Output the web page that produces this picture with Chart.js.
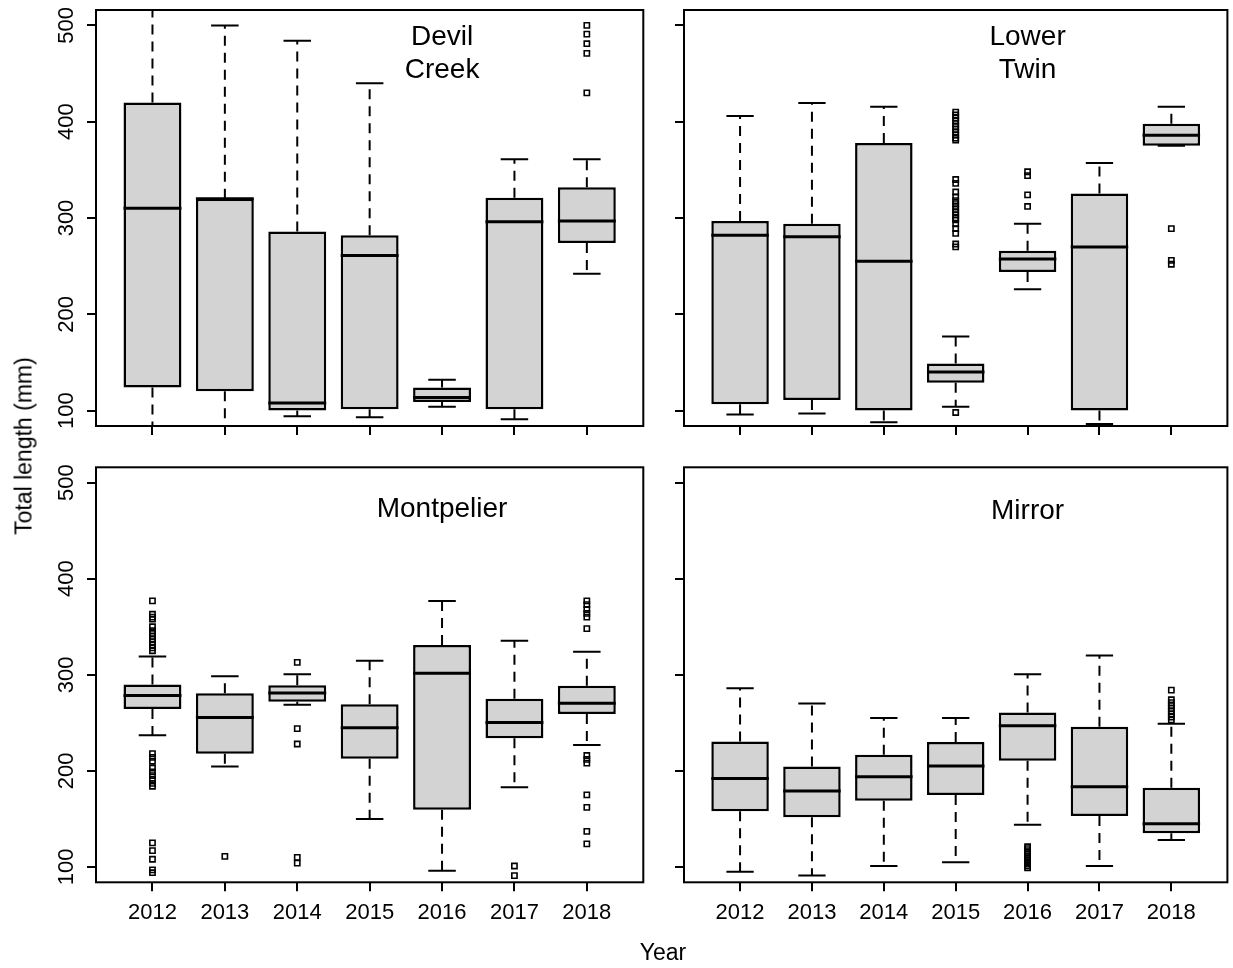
<!DOCTYPE html>
<html>
<head>
<meta charset="utf-8">
<script src="https://cdn.jsdelivr.net/npm/chart.js@4.4.0/dist/chart.umd.min.js"></script>
<style>
  html, body { margin: 0; padding: 0; background: #fff; }
  #wrap { position: relative; width: 1233px; height: 968px; overflow: hidden; }
  #wrap canvas { position: absolute; left: 0; top: 0; }
  .lab { position: absolute; font-family: 'Liberation Sans', Arial, sans-serif; font-size: 23px; line-height: 1; color: #000; white-space: nowrap; }
  #ylab { left: 23.7px; top: 446px; transform: translate(-50%, -50%) rotate(-90deg); }
  #xlab { left: 663px; top: 941px; transform: translateX(-50%); }
</style>
</head>
<body>
<div id="wrap">
  <canvas id="devil" width="1233" height="968"></canvas>
  <canvas id="twin" width="1233" height="968"></canvas>
  <canvas id="mont" width="1233" height="968"></canvas>
  <canvas id="mirror" width="1233" height="968"></canvas>
  <div class="lab" id="ylab">Total length (mm)</div>
  <div class="lab" id="xlab">Year</div>
</div>
<script>
var years = ["2012", "2013", "2014", "2015", "2016", "2017", "2018"];
var yTicks = [100, 200, 300, 400, 500];

// Devil Creek
var devilLow  = [70, 70, 94, 93, 104, 91, 242];
var devilQ1   = [124, 120, 100, 101.5, 109, 101.5, 274];
var devilMed  = [310, 320, 108, 261, 113.5, 296, 297];
var devilQ3   = [420, 320, 286, 282, 124, 321, 332];
var devilHigh = [540, 500, 484, 440, 132, 361, 361];
var devilOut  = [[], [], [], [], [], [], [500, 491, 481, 471, 430]];

// Lower Twin
var twinLow  = [96, 97, 88, 104, 226, 86, 375];
var twinQ1   = [106.5, 111, 100, 129, 244, 100, 375];
var twinMed  = [282, 280.5, 255, 140, 257.5, 270, 386];
var twinQ3   = [297, 294, 378, 149, 266, 325.5, 398];
var twinHigh = [406, 419.5, 415.5, 177, 294, 357, 415.5];
var twinOut  = [[], [], [],
  [410, 407, 404, 401, 398, 395, 392, 389, 386, 383, 381, 340, 336, 327, 322, 318, 315, 312, 309, 306, 303, 300, 298, 294, 289, 284, 273, 270, 98],
  [348, 344, 324, 312], [], [289, 256, 252]];

// Montpelier
var montLow  = [237, 204.6, 268.7, 150, 96, 183, 227];
var montQ1   = [264.5, 217.7, 272, 212.6, 159.6, 234, 259.3];
var montMed  = [278.4, 255.5, 281, 245, 301.6, 250.3, 270.4];
var montQ3   = [289.8, 280.8, 289, 269.3, 331, 275, 288.7];
var montHigh = [319, 298.4, 300.5, 314.7, 376.7, 335.5, 324];
var montOut  = [
  [377, 363, 360, 358, 350, 346, 343, 340, 337, 334, 331, 328, 325, 218, 214, 210, 203, 199, 195, 191, 187, 184, 125, 117, 108, 97, 94],
  [111], [313, 244, 228, 110, 104], [], [], [101, 91],
  [377, 373, 368, 364, 360, 348, 216, 212, 208, 175, 162, 137, 124]];

// Mirror
var mirrorLow  = [95, 91, 101, 105, 144, 101, 128];
var mirrorQ1   = [158, 151.6, 169, 175, 210.5, 153, 135];
var mirrorMed  = [192, 179, 194, 205, 247, 183.5, 145];
var mirrorQ3   = [230.6, 204.6, 216.7, 230, 260.7, 246, 182.4];
var mirrorHigh = [286, 270, 255, 255, 300.5, 320, 249];
var mirrorOut  = [[], [], [], [],
  [121, 119, 117, 115, 113, 111, 109, 107, 105, 103, 101, 99], [],
  [284, 274, 271, 268, 265, 262, 259, 256, 253]];

var FONT = "'Liberation Sans', Arial, sans-serif";
var Y_AXIS_W = 60, X_AXIS_H = 50;

function fixSize(s) {
  if (s.isHorizontal()) s.height = X_AXIS_H; else s.width = Y_AXIS_W;
  s.paddingTop = 0; s.paddingBottom = 0; s.paddingLeft = 0; s.paddingRight = 0;
}

// whiskers, medians, frame and the lake name
function boxPlugin(low, med, high, title, titleY) {
  return {
    id: 'boxes',
    beforeDatasetsDraw: function (chart) {
      var ctx = chart.ctx, a = chart.chartArea;
      var xs = chart.scales.x, ys = chart.scales.y;
      ctx.save();
      ctx.beginPath();
      ctx.rect(a.left, a.top, a.right - a.left, a.bottom - a.top);
      ctx.clip();
      ctx.strokeStyle = '#000';
      ctx.lineWidth = 2;
      for (var i = 0; i < years.length; i++) {
        var x = xs.getPixelForValue(i + 1);
        var q1 = chart.data.datasets[0].data[i].y[0];
        var q3 = chart.data.datasets[0].data[i].y[1];
        ctx.setLineDash([10, 7]);
        ctx.beginPath();
        ctx.moveTo(x, ys.getPixelForValue(q3));
        ctx.lineTo(x, ys.getPixelForValue(high[i]));
        ctx.moveTo(x, ys.getPixelForValue(q1));
        ctx.lineTo(x, ys.getPixelForValue(low[i]));
        ctx.stroke();
        ctx.setLineDash([]);
        ctx.beginPath();
        var x0 = xs.getPixelForValue(i + 1 - 0.19), x1 = xs.getPixelForValue(i + 1 + 0.19);
        ctx.moveTo(x0, ys.getPixelForValue(high[i]));
        ctx.lineTo(x1, ys.getPixelForValue(high[i]));
        ctx.moveTo(x0, ys.getPixelForValue(low[i]));
        ctx.lineTo(x1, ys.getPixelForValue(low[i]));
        ctx.stroke();
      }
      ctx.restore();
    },
    afterDatasetsDraw: function (chart) {
      var ctx = chart.ctx, a = chart.chartArea;
      var xs = chart.scales.x, ys = chart.scales.y;
      ctx.save();
      ctx.strokeStyle = '#000';
      ctx.lineWidth = 3;
      for (var i = 0; i < years.length; i++) {
        var y = ys.getPixelForValue(med[i]);
        ctx.beginPath();
        ctx.moveTo(xs.getPixelForValue(i + 1 - 0.4), y);
        ctx.lineTo(xs.getPixelForValue(i + 1 + 0.4), y);
        ctx.stroke();
      }
      ctx.lineWidth = 2;
      ctx.strokeRect(a.left, a.top, a.right - a.left, a.bottom - a.top);
      ctx.fillStyle = '#000';
      ctx.font = '28px ' + FONT;
      ctx.textAlign = 'center';
      ctx.textBaseline = 'alphabetic';
      for (var j = 0; j < title.length; j++) {
        ctx.fillText(title[j], xs.getPixelForValue(5), ys.getPixelForValue(titleY[j]));
      }
      ctx.restore();
    }
  };
}

function makePanel(id, area, low, q1, med, q3, high, out, title, titleY, showX, showY) {
  var boxes = years.map(function (y, i) { return { x: i + 1, y: [q1[i], q3[i]] }; });
  var points = [];
  out.forEach(function (vals, i) {
    vals.forEach(function (v) { points.push({ x: i + 1, y: v }); });
  });
  var tickFont = { family: FONT, size: 22 };
  new Chart(document.getElementById(id), {
    type: 'bar',
    data: {
      datasets: [{
        type: 'bar',
        data: boxes,
        backgroundColor: '#d3d3d3',
        borderColor: '#000',
        borderWidth: 2.5,
        borderSkipped: false,
        categoryPercentage: 1,
        barPercentage: 0.8,
        order: 2
      }, {
        type: 'scatter',
        data: points,
        pointStyle: 'rect',
        radius: 3.7,
        borderColor: '#000',
        borderWidth: 1.6,
        backgroundColor: 'rgba(0,0,0,0)',
        order: 1
      }]
    },
    options: {
      responsive: false,
      animation: false,
      devicePixelRatio: 1,
      events: [],
      layout: { padding: { left: area[0] - Y_AXIS_W, top: area[1], right: 1233 - area[2], bottom: 968 - area[3] - X_AXIS_H } },
      plugins: { legend: { display: false }, tooltip: { enabled: false } },
      scales: {
        x: {
          type: 'linear', min: 0.22, max: 7.78, offset: false,
          afterFit: fixSize,
          afterBuildTicks: function (s) { s.ticks = years.map(function (y, i) { return { value: i + 1 }; }); },
          ticks: { display: showX, autoSkip: false, maxRotation: 0, padding: 8, color: '#000', font: tickFont,
            callback: function (v) { return years[v - 1]; } },
          grid: { offset: false, drawOnChartArea: false, drawTicks: true, tickLength: 9, color: '#000', lineWidth: 2 },
          border: { display: false }
        },
        y: {
          min: 84, max: 516,
          afterFit: fixSize,
          afterBuildTicks: function (s) { s.ticks = yTicks.map(function (v) { return { value: v }; }); },
          ticks: { display: showY, minRotation: 90, maxRotation: 90, crossAlign: 'center', padding: 2, color: '#000', font: tickFont },
          grid: { drawOnChartArea: false, drawTicks: true, tickLength: 9, color: '#000', lineWidth: 2 },
          border: { display: false }
        }
      }
    },
    plugins: [boxPlugin(low, med, high, title, titleY)]
  });
}

makePanel('devil', [96, 10, 643.3, 426], devilLow, devilQ1, devilMed, devilQ3, devilHigh, devilOut,
  ['Devil', 'Creek'], [479.4, 445.2], false, true);
makePanel('twin', [684, 10, 1231.7, 426], twinLow, twinQ1, twinMed, twinQ3, twinHigh, twinOut,
  ['Lower', 'Twin'], [479.4, 445.2], false, false);
makePanel('mont', [96, 467.3, 643.3, 882.3], montLow, montQ1, montMed, montQ3, montHigh, montOut,
  ['Montpelier'], [464.3], true, true);
makePanel('mirror', [684, 467.3, 1231.7, 882.3], mirrorLow, mirrorQ1, mirrorMed, mirrorQ3, mirrorHigh, mirrorOut,
  ['Mirror'], [462.6], true, false);
</script>
</body>
</html>
